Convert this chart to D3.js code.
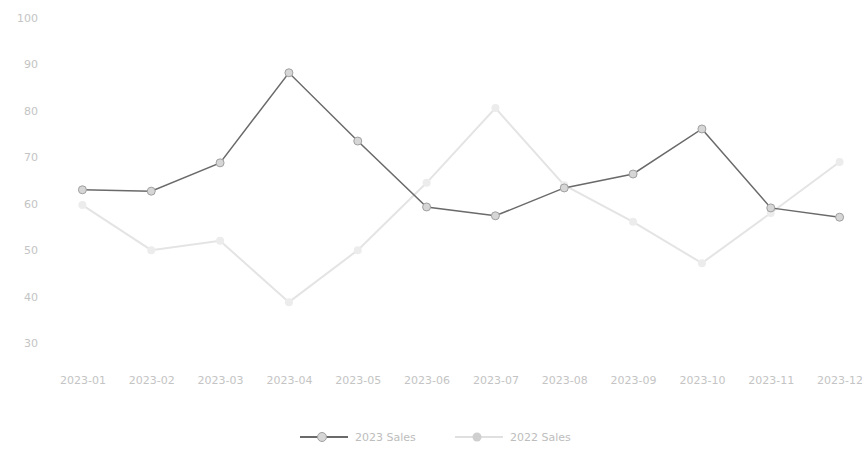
<!DOCTYPE html>
<html>
<head>
<meta charset="utf-8">
<script src="https://cdn.jsdelivr.net/npm/d3@7"></script>
<style>
  body { margin: 0; background: #fff; }
  text { font-family: "DejaVu Sans", sans-serif; }
</style>
</head>
<body>
<div class="vis-linechart"></div>
<script>
const months = ['2023-01', '2023-02', '2023-03', '2023-04', '2023-05', '2023-06',
  '2023-07', '2023-08', '2023-09', '2023-10', '2023-11', '2023-12'];
const seriesA = [63.0, 62.7, 68.8, 88.2, 73.5, 59.3, 57.4, 63.4, 66.4, 76.1, 59.1, 57.1];
const seriesB = [59.7, 50.0, 52.0, 38.8, 50.0, 64.5, 80.6, 64.0, 56.1, 47.2, 58.0, 69.0];
const yTicks = [30, 40, 50, 60, 70, 80, 90, 100];
const legendNames = ['2023 Sales', '2022 Sales'];

const W = 862;
const H = 457;

const svg = d3
  .select('.vis-linechart')
  .append('svg')
  .attr('width', W)
  .attr('height', H);

const x = d3
  .scalePoint()
  .domain(months)
  .range([48, 874])
  .padding(0.5);

const y = d3
  .scaleLinear()
  .domain([30, 100])
  .range([343, 18]);

// Y axis, labels only
const yAxis = svg
  .append('g')
  .attr('transform', 'translate(40,0)')
  .call(d3.axisLeft(y).tickValues(yTicks).tickSize(0).tickPadding(2));
yAxis.select('.domain').remove();
yAxis.selectAll('text').attr('fill', '#c4c4c4').style('font-size', '11px');

// X axis, labels only
const xAxis = svg
  .append('g')
  .attr('transform', 'translate(0,372)')
  .call(d3.axisBottom(x).tickSize(0).tickPadding(4));
xAxis.select('.domain').remove();
xAxis.selectAll('text').attr('fill', '#c4c4c4').style('font-size', '11px');

const line = d3
  .line()
  .x((d, i) => x(months[i]))
  .y((d) => y(d));

// light series
svg
  .append('path')
  .datum(seriesB)
  .attr('fill', 'none')
  .attr('stroke', '#e4e4e4')
  .attr('stroke-width', 2)
  .attr('d', line);
svg
  .append('g')
  .selectAll('circle')
  .data(seriesB)
  .join('circle')
  .attr('cx', (d, i) => x(months[i]))
  .attr('cy', (d) => y(d))
  .attr('r', 4)
  .attr('fill', '#ececec');

// dark series
svg
  .append('path')
  .datum(seriesA)
  .attr('fill', 'none')
  .attr('stroke', '#6a6a6a')
  .attr('stroke-width', 1.5)
  .attr('d', line);
svg
  .append('g')
  .selectAll('circle')
  .data(seriesA)
  .join('circle')
  .attr('cx', (d, i) => x(months[i]))
  .attr('cy', (d) => y(d))
  .attr('r', 4)
  .attr('fill', '#d6d6d6')
  .attr('stroke', '#a0a0a0')
  .attr('stroke-width', 1);

// legend
const legend = svg.append('g').attr('transform', 'translate(0,437)');
const items = [
  { x: 300, name: legendNames[0], stroke: '#6a6a6a', fill: '#d6d6d6', ring: '#a0a0a0' },
  { x: 455, name: legendNames[1], stroke: '#e0e0e0', fill: '#cfcfcf', ring: 'none' }
];
items.forEach((it) => {
  legend.append('line')
    .attr('x1', it.x).attr('x2', it.x + 48)
    .attr('y1', 0).attr('y2', 0)
    .attr('stroke', it.stroke).attr('stroke-width', 2);
  legend.append('circle')
    .attr('cx', it.x + 22).attr('cy', 0).attr('r', 4.5)
    .attr('fill', it.fill).attr('stroke', it.ring);
  legend.append('text')
    .attr('x', it.x + 55).attr('y', 4)
    .attr('fill', '#bdbdbd')
    .style('font-size', '11px')
    .text(it.name);
});
</script>
</body>
</html>
